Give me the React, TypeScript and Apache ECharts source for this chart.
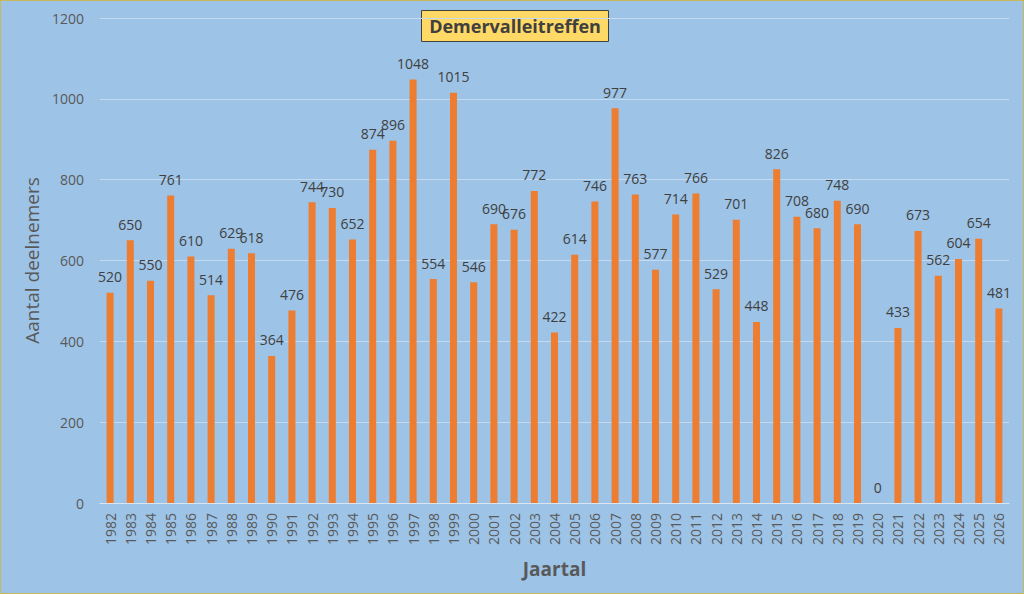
import React, { useEffect, useRef } from "react";
import * as echarts from "echarts";

const years = [
  "1982","1983","1984","1985","1986","1987","1988","1989","1990","1991",
  "1992","1993","1994","1995","1996","1997","1998","1999","2000","2001",
  "2002","2003","2004","2005","2006","2007","2008","2009","2010","2011",
  "2012","2013","2014","2015","2016","2017","2018","2019","2020","2021",
  "2022","2023","2024","2025","2026",
];
const participants = [
  520, 650, 550, 761, 610, 514, 629, 618, 364, 476,
  744, 730, 652, 874, 896, 1048, 554, 1015, 546, 690,
  676, 772, 422, 614, 746, 977, 763, 577, 714, 766,
  529, 701, 448, 826, 708, 680, 748, 690, 0, 433,
  673, 562, 604, 654, 481,
];

export default function App() {
  const ref = useRef<HTMLDivElement>(null);
  useEffect(() => {
    document.body.style.margin = "0";
    const chart = echarts.init(ref.current!, undefined, { renderer: "svg" });
    chart.setOption({
      animation: false,
      backgroundColor: "#9DC3E6",
      textStyle: { fontFamily: "Open Sans" },
      grid: { left: 99, right: 14, top: 17, bottom: 90 },
      graphic: [
        {
          type: "group",
          left: 420,
          top: 9,
          children: [
            {
              type: "rect",
              shape: { x: 0, y: 0, width: 187, height: 31 },
              style: { fill: "#FFD966", stroke: "#404040", lineWidth: 1 },
            },
            {
              type: "text",
              style: {
                x: 93.5,
                y: 15.5,
                text: "Demervalleitreffen",
                align: "center",
                verticalAlign: "middle",
                fill: "#404040",
                font: "bold 18px 'Open Sans'",
              },
            },
          ],
        },
      ],
      xAxis: {
        type: "category",
        data: years,
        name: "Jaartal",
        nameLocation: "middle",
        nameGap: 56,
        nameTextStyle: { color: "#595959", fontSize: 19, fontWeight: "bold" },
        axisLine: { show: true, lineStyle: { color: "#D9E6F2", width: 1 } },
        axisTick: { show: false },
        axisLabel: { rotate: 90, color: "#595959", fontSize: 14, margin: 10, interval: 0 },
      },
      yAxis: {
        type: "value",
        min: 0,
        max: 1200,
        interval: 200,
        name: "Aantal deelnemers",
        nameLocation: "middle",
        nameGap: 56,
        nameTextStyle: { color: "#595959", fontSize: 19 },
        axisLine: { show: false },
        axisTick: { show: false },
        axisLabel: { color: "#595959", fontSize: 14, margin: 16, formatter: (v: number) => String(v) },
        splitLine: { lineStyle: { color: "#C4DAF0", width: 1 } },
      },
      series: [
        {
          type: "bar",
          data: participants,
          barWidth: 7,
          itemStyle: { color: "#ED7D31" },
          label: {
            show: true,
            position: "top",
            distance: 9,
            color: "#404040",
            fontSize: 14,
          },
        },
      ],
    });
    return () => chart.dispose();
  }, []);
  return (
    <div
      style={{
        position: "absolute",
        left: 0,
        top: 0,
        width: 1024,
        height: 594,
        boxSizing: "border-box",
        border: "1px solid #C9B85A",
      }}
    >
      <div ref={ref} style={{ width: 1022, height: 592 }} />
    </div>
  );
}
